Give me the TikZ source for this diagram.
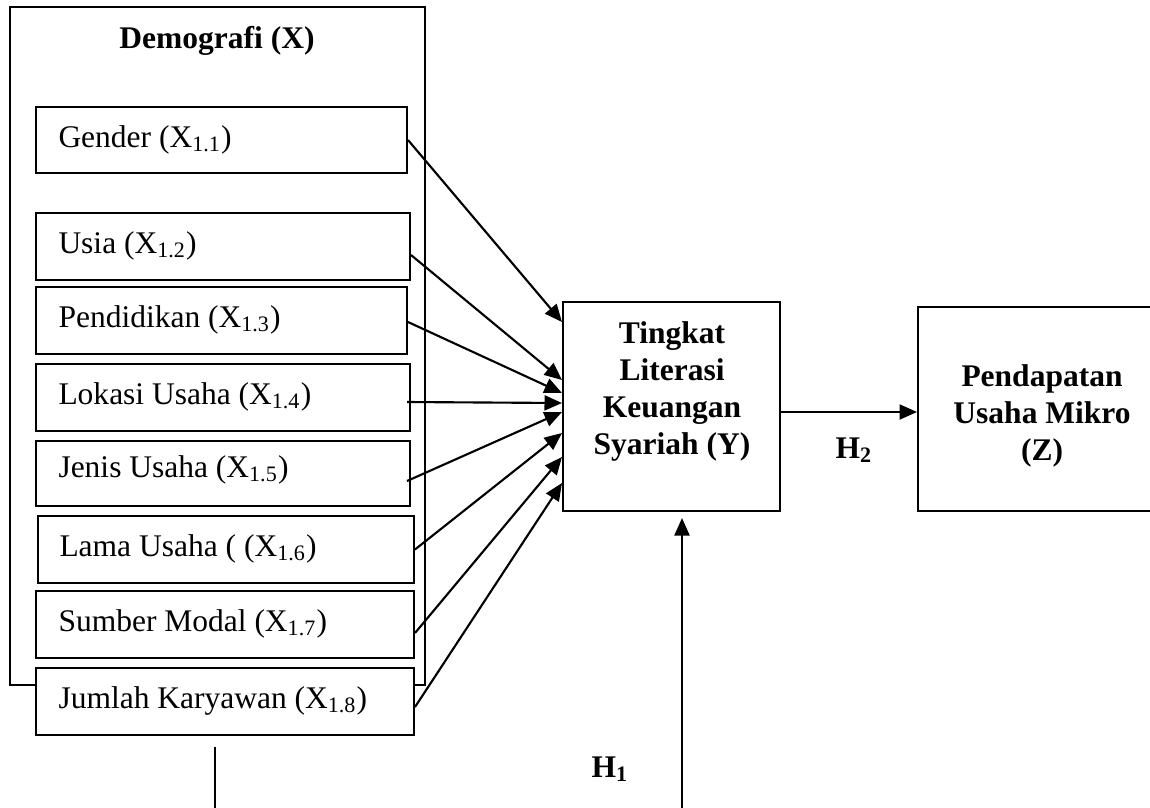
\documentclass[tikz,border=0pt]{standalone}
\usepackage{fontspec}
\setmainfont{Liberation Serif}
\usetikzlibrary{fit,calc,arrows.meta}
\begin{document}
\begin{tikzpicture}[x=0.4pt,y=-0.4pt,
  box/.style={draw,line width=0.8pt,inner sep=0pt,fill=white},
  lbl/.style={anchor=base west,inner sep=0pt,font=\fontsize{12.6}{14}\selectfont},
  hd/.style={inner sep=0pt,font=\fontsize{12.6}{14.8}\selectfont\bfseries,align=center},
  conn/.style={line width=0.85pt,-{Triangle[length=7pt,width=6pt]}},
  plain/.style={line width=0.8pt}]
\useasboundingbox (0,0) rectangle (1150,807);
% outer box
\node[box,fill=none,fit={(10,7)(425,685)}] (demo) {};
\node[hd,anchor=base] (demot) at (217,48) {Demografi (X)};
% sub boxes
\node[box,fit={(36,107)(407,173)}] (x1) {};
\node[lbl] (t1) at (58,147) {Gender (X\textsubscript{1.1})};
\node[box,fit={(36,213)(410,280)}] (x2) {};
\node[lbl] (t2) at (58,253) {Usia (X\textsubscript{1.2})};
\node[box,fit={(36,287)(407,354)}] (x3) {};
\node[lbl] (t3) at (58,327) {Pendidikan (X\textsubscript{1.3})};
\node[box,fit={(36,364)(410,431)}] (x4) {};
\node[lbl] (t4) at (58,404) {Lokasi Usaha (X\textsubscript{1.4})};
\node[box,fit={(36,441)(410,506)}] (x5) {};
\node[lbl] (t5) at (58,477) {Jenis Usaha (X\textsubscript{1.5})};
\node[box,fit={(38,516)(414,583)}] (x6) {};
\node[lbl] (t6) at (59,556) {Lama Usaha ( (X\textsubscript{1.6})};
\node[box,fit={(36,591)(414,658)}] (x7) {};
\node[lbl] (t7) at (58,631) {Sumber Modal (X\textsubscript{1.7})};
\node[box,fit={(36,668)(414,735)}] (x8) {};
\node[lbl] (t8) at (58,708) {Jumlah Karyawan (X\textsubscript{1.8})};
% Y and Z
\node[box,fit={(563,302)(780,511)}] (Y) {};
\node[hd] (Yt) at (672,391) {Tingkat\\Literasi\\Keuangan\\Syariah (Y)};
\node[box,fit={(918,307)(1165,511)}] (Z) {};
\node[hd] (Zt) at (1042,416) {Pendapatan\\Usaha Mikro\\(Z)};
% connectors
\draw[conn] (x1.east) -- ($(Y.west)+(0,-84.5)$);
\draw[conn] ($(x2.east)+(0,8.5)$) -- ($(Y.west)+(0,-26.5)$);
\draw[conn] ($(x3.east)+(0,1.5)$) -- ($(Y.west)+(0,-13.5)$);
\draw[conn] ($(x4.east)+(-4,4.5)$) -- ($(Y.west)+(0,-3.5)$);
\draw[conn] ($(x5.east)+(-4,7.5)$) -- ($(Y.west)+(0,5.5)$);
\draw[conn] (x6.east) -- ($(Y.west)+(0,26.5)$);
\draw[conn] ($(x7.east)+(0,8.5)$) -- ($(Y.west)+(0,50.5)$);
\draw[conn] ($(x8.east)+(0,5.5)$) -- ($(Y.west)+(0,76.5)$);
\draw[conn] ($(Y.east)+(0,5.5)$) -- ($(Z.west)+(0,3)$);
\coordinate (h1s) at (682,812);
\draw[conn] (h1s) -- ($(Y.south)+(10.5,6)$);
\coordinate (la) at (215,747);
\coordinate (lb) at (215,812);
\draw[plain] (la) -- (lb);
% labels
\node[hd,anchor=base] (h2) at (854,458) {H\textsubscript{2}};
\node[hd,anchor=base] (h1) at (610,777) {H\textsubscript{1}};
\end{tikzpicture}
\end{document}
